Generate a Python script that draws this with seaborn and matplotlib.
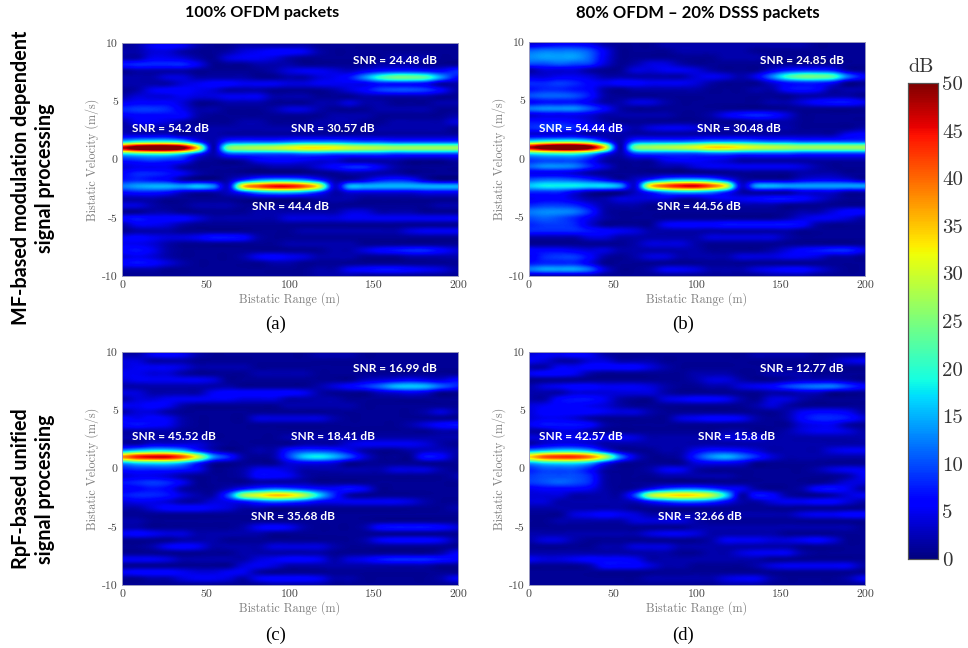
import numpy as np
import seaborn as sns
import matplotlib.pyplot as plt

# grid of the maps: chosen so rows/cols land on the streaks and their gaps
range_m = [0, 9, 18, 27, 36, 45, 54, 63, 72, 81, 90, 99, 108, 117, 126, 135, 144, 153, 162, 171, 180, 189, 198, 207]
velocity = [10.35, 9.8, 9.25, 8.7, 8.15, 7.6, 7.05, 6.5, 5.95, 5.4, 4.85, 4.3, 3.75, 3.2, 2.65, 2.1, 1.55, 1.0, 0.45,
            -0.1, -0.65, -1.2, -1.75, -2.3, -2.85, -3.4, -3.95, -4.5, -5.05, -5.6, -6.15, -6.7, -7.25, -7.8, -8.35,
            -8.9, -9.45, -10.0]

map_a = [
    [1,1,1,1,1,1,1,1,1,1,1,1,1,1,1,1,2,2,2,2,2,2,2,2],
    [1,2,5,6,5,2,1,1,2,2,2,2,2,1,1,1,1,1,1,1,1,1,1,1],
    [2,2,4,4,2,1,1,2,4,5,6,6,5,2,1,1,1,1,1,1,1,1,1,1],
    [2,2,5,5,4,2,1,4,5,5,4,2,1,1,1,1,1,1,2,2,2,1,1,1],
    [7,8,8,8,8,5,1,1,1,2,2,2,1,1,1,1,1,2,2,2,1,1,1,1],
    [1,2,2,2,2,1,1,1,1,1,2,4,5,5,4,3,5,7,8,8,7,6,8,8],
    [2,2,2,4,4,2,2,2,2,1,1,2,2,4,5,7,13,20,24,24,22,14,7,6],
    [2,2,2,2,4,5,6,6,5,5,5,4,4,5,5,5,5,7,7,7,6,2,2,2],
    [1,2,5,6,6,5,4,2,2,2,1,1,1,1,2,4,6,9,10,10,9,6,2,1],
    [2,4,4,4,5,4,4,5,5,5,2,2,2,1,1,1,2,2,2,2,2,1,1,1],
    [5,6,6,6,4,1,1,2,2,2,1,1,1,2,2,4,2,2,1,1,1,2,2,2],
    [8,9,9,8,5,2,2,1,1,1,2,4,4,2,1,1,1,2,2,2,2,1,1,1],
    [5,6,6,6,6,2,1,1,1,1,1,1,1,1,2,2,2,1,1,1,1,1,2,2],
    [2,5,5,4,2,1,1,1,2,2,1,1,1,2,2,2,1,1,2,2,2,2,4,4],
    [2,2,2,2,2,2,2,2,2,2,2,2,2,2,1,1,1,2,2,2,2,2,1,1],
    [4,4,4,4,2,2,2,2,2,2,2,2,2,2,2,2,2,2,2,2,2,2,2,2],
    [16,19,20,20,17,8,2,9,10,10,10,11,12,12,12,11,10,10,9,9,9,9,9,9],
    [47,54,57,57,52,34,2,24,27,28,29,31,33,33,32,30,29,28,27,27,27,27,27,27],
    [17,19,20,20,16,8,2,9,10,10,10,10,11,11,10,10,10,10,9,9,9,9,9,9],
    [7,8,9,8,7,2,1,1,2,5,6,6,5,4,4,2,2,2,2,1,1,1,2,2],
    [4,5,5,5,2,1,1,1,1,1,2,2,2,4,6,8,8,5,2,1,1,1,1,1],
    [6,8,8,7,5,2,1,1,1,1,1,1,1,1,1,2,2,2,2,1,1,1,1,1],
    [7,8,7,6,2,1,1,2,8,13,15,15,13,8,2,2,4,7,8,7,3,1,1,1],
    [12,14,15,15,14,16,13,4,34,41,45,45,41,31,4,15,15,15,15,15,15,15,15,15],
    [6,7,7,6,3,2,2,3,8,13,15,15,13,8,2,4,4,4,4,4,5,5,5,5],
    [2,2,2,1,1,1,1,1,1,1,1,1,1,2,2,2,1,1,1,1,1,1,1,1],
    [4,4,2,1,1,2,2,2,1,1,1,1,1,1,1,1,1,1,1,1,1,2,2,2],
    [1,1,2,2,1,1,1,1,1,2,2,2,2,2,2,4,4,2,2,2,1,1,1,1],
    [6,7,6,6,6,4,2,2,2,2,2,4,4,4,4,5,5,5,5,5,5,5,5,4],
    [2,5,5,4,2,1,1,1,1,1,1,1,1,1,1,1,1,1,1,1,1,1,1,1],
    [1,2,2,2,1,1,1,1,1,1,1,1,2,2,2,2,2,2,2,4,5,5,5,5],
    [5,6,5,4,4,5,7,7,6,2,1,1,1,1,1,1,1,1,1,1,1,1,1,1],
    [5,5,4,2,1,1,1,1,1,1,1,2,2,2,2,2,1,1,1,1,1,1,1,1],
    [6,7,5,2,1,1,1,1,1,1,1,1,1,1,2,2,4,6,7,8,8,6,4,2],
    [4,5,4,2,1,1,1,1,2,5,6,5,4,2,2,2,1,1,1,2,2,2,2,2],
    [6,7,6,4,2,1,1,1,1,1,2,2,1,1,1,1,1,1,1,1,1,1,1,1],
    [2,2,2,1,1,1,1,1,1,1,1,1,1,2,2,5,6,7,7,6,5,4,2,2],
    [1,1,1,1,1,1,1,1,1,1,1,1,1,2,2,2,1,1,1,1,1,1,1,1],
]

map_b = [
    [2,2,2,2,2,1,1,1,1,1,1,1,1,1,1,1,1,1,1,1,1,1,1,1],
    [4,5,6,6,5,2,1,1,1,2,2,2,2,2,2,2,2,2,2,1,1,1,1,1],
    [11,12,12,12,10,5,1,1,1,1,2,2,2,2,2,1,1,1,1,1,1,1,1,1],
    [13,14,14,14,11,5,1,1,1,1,1,1,1,2,2,2,1,1,1,1,1,1,1,1],
    [10,10,11,10,9,4,1,2,4,4,2,1,1,1,1,1,1,1,1,1,1,1,1,1],
    [2,4,4,4,2,1,1,4,4,5,5,4,2,1,1,1,4,7,8,8,7,2,1,1],
    [4,4,5,5,4,2,2,2,2,2,2,4,5,4,2,5,12,20,24,24,22,12,6,2],
    [8,8,9,8,6,5,6,6,5,5,5,4,2,1,1,1,4,7,8,8,6,1,1,1],
    [7,8,8,7,6,2,1,2,2,2,2,2,1,1,1,2,2,6,7,6,2,2,2,2],
    [10,11,11,10,7,2,1,1,1,1,1,1,1,1,1,1,1,1,2,2,2,2,1,1],
    [6,7,7,7,5,2,2,4,4,2,1,1,1,1,1,1,2,2,4,6,7,7,5,2],
    [12,13,13,13,10,6,2,1,1,1,1,1,1,1,1,1,1,1,1,1,1,1,1,1],
    [4,5,5,5,4,2,2,2,2,2,1,1,2,5,7,8,7,4,1,1,1,1,1,1],
    [7,7,7,6,4,2,1,1,1,1,1,1,1,1,1,2,2,2,1,1,1,1,1,1],
    [8,9,9,8,6,5,4,2,4,5,5,4,2,2,2,2,2,2,1,1,1,1,2,2],
    [4,4,4,4,2,2,2,2,2,2,2,2,2,2,2,2,2,2,2,2,2,5,6,5],
    [17,19,20,20,17,8,2,9,10,10,10,11,12,12,12,11,10,10,9,9,9,9,9,9],
    [47,54,58,58,52,34,2,24,27,28,29,31,34,34,32,30,29,28,27,27,27,27,27,27],
    [18,20,21,21,17,8,2,9,10,10,10,10,11,11,10,10,10,10,9,9,9,9,9,9],
    [9,10,10,10,7,2,1,2,2,5,6,6,5,4,2,2,2,2,2,2,2,2,2,2],
    [11,13,13,12,8,4,1,1,1,2,2,4,5,5,5,5,5,5,4,2,1,1,1,1],
    [5,5,5,4,2,1,1,1,1,1,1,1,1,1,1,1,1,1,2,2,2,1,1,1],
    [10,11,11,10,8,5,2,3,8,13,15,15,13,8,2,2,2,2,4,5,5,4,2,2],
    [16,18,18,18,17,17,14,4,33,41,45,46,41,31,4,14,15,14,14,14,14,14,14,14],
    [8,8,8,5,2,1,1,3,8,13,15,15,13,8,2,2,2,2,4,4,4,2,2,2],
    [5,6,6,4,2,2,4,4,4,4,2,2,4,5,5,6,7,7,6,4,2,1,1,1],
    [8,9,9,8,5,2,2,2,1,1,1,1,1,1,2,2,2,1,1,1,1,1,1,1],
    [12,13,13,12,8,2,1,1,1,1,1,1,1,1,1,1,1,1,2,2,4,6,6,5],
    [10,11,10,8,5,2,1,1,1,1,1,1,1,1,1,1,1,2,4,5,5,4,2,2],
    [8,9,9,8,4,1,1,1,1,5,6,6,6,7,7,7,7,7,6,2,1,1,1,1],
    [8,8,8,8,7,6,5,4,2,2,2,2,2,2,2,2,2,2,1,1,1,1,1,1],
    [2,2,2,2,4,4,2,2,2,2,2,2,4,4,4,4,4,2,1,1,1,1,1,1],
    [1,1,1,1,1,1,1,2,4,4,4,2,1,1,1,1,1,1,1,1,1,1,1,1],
    [6,6,6,5,4,4,2,2,2,2,2,2,1,1,1,1,2,4,6,7,8,8,5,1],
    [5,8,9,9,6,2,1,2,4,4,2,2,2,2,4,4,4,5,5,4,2,2,1,1],
    [7,8,8,8,5,1,1,1,1,1,1,1,1,1,1,1,1,1,1,1,1,1,1,1],
    [12,14,14,14,11,4,1,1,2,5,5,4,2,2,2,4,5,6,6,4,2,1,1,1],
    [2,2,2,2,2,1,1,1,1,1,1,1,1,1,1,1,2,2,2,1,1,1,1,1],
]

map_c = [
    [1,1,1,1,1,1,1,1,1,1,1,1,1,1,1,1,1,1,1,1,1,1,1,1],
    [2,2,5,6,5,2,1,1,1,1,1,1,1,2,2,2,1,1,1,1,1,1,1,1],
    [4,4,2,2,2,1,1,1,1,1,1,1,1,1,1,1,1,1,1,1,1,1,1,1],
    [4,5,5,5,4,2,2,2,2,1,1,1,1,1,1,1,1,1,1,1,1,1,1,1],
    [5,5,4,4,2,1,1,1,1,2,2,2,2,1,1,1,1,1,1,1,1,1,1,1],
    [4,5,5,5,5,5,4,1,1,1,1,1,1,1,1,1,3,4,5,6,5,4,6,7],
    [2,2,2,2,2,2,2,2,1,1,1,1,1,2,4,6,8,11,15,16,15,11,8,5],
    [4,4,2,2,2,2,5,6,6,6,6,6,5,2,1,1,1,3,4,5,4,1,1,1],
    [2,4,4,5,5,5,5,5,4,4,4,2,2,2,2,1,1,1,1,1,1,1,1,1],
    [5,5,6,5,2,1,1,1,1,1,1,2,2,2,2,2,1,1,1,1,1,1,1,1],
    [2,4,4,2,1,1,1,1,1,1,1,1,1,1,1,1,1,1,1,1,2,4,2,1],
    [6,5,6,5,2,1,1,1,1,4,4,4,4,4,2,1,1,1,1,1,1,1,1,1],
    [6,7,6,5,2,1,1,1,1,1,1,1,1,1,1,1,1,1,1,2,4,6,7,7],
    [2,2,2,2,1,1,1,1,1,1,1,1,1,1,1,1,1,1,1,1,1,2,2,2],
    [2,2,2,2,2,2,1,1,1,1,1,2,2,2,2,2,2,2,2,2,2,2,2,2],
    [2,2,4,4,4,4,2,1,1,1,1,1,2,2,2,4,5,5,5,5,4,2,1,1],
    [13,16,18,18,15,8,3,1,1,2,2,7,9,9,8,5,2,1,1,2,3,3,2,2],
    [38,44,46,46,41,30,14,8,2,1,2,9,16,18,15,10,4,1,1,1,7,6,2,1],
    [14,17,18,18,15,8,2,1,1,1,1,4,5,5,4,1,1,1,1,1,1,1,1,1],
    [7,8,8,8,7,5,1,1,2,5,5,4,2,2,2,2,2,2,4,4,4,2,1,1],
    [4,5,5,4,2,1,1,1,2,6,6,5,2,1,1,1,1,1,1,1,1,1,2,5],
    [7,8,9,8,5,1,1,1,1,2,2,2,2,1,1,1,1,1,1,1,1,1,1,2],
    [5,6,7,6,2,1,1,3,7,10,12,11,9,7,6,7,5,1,1,1,1,1,1,1],
    [7,8,8,7,4,2,2,10,26,31,35,34,28,17,8,2,1,1,1,1,1,1,1,1],
    [4,5,5,4,2,2,4,5,7,10,12,11,9,6,5,5,5,5,5,4,2,1,1,1],
    [2,2,4,6,6,6,5,4,2,2,1,1,1,1,1,1,1,1,1,1,1,1,2,2],
    [1,1,1,1,1,1,1,1,1,1,1,1,1,1,1,1,1,1,1,1,1,1,1,1],
    [2,2,1,1,1,1,1,1,1,1,1,1,1,1,1,1,1,1,1,1,1,1,1,1],
    [2,2,1,1,1,1,1,1,2,5,6,5,2,1,1,1,2,6,7,7,7,6,4,1],
    [5,6,5,4,4,2,2,2,2,2,1,1,1,1,1,1,1,1,1,1,1,1,1,1],
    [1,1,1,1,2,2,2,1,1,1,1,1,1,1,1,1,2,5,6,6,6,5,2,1],
    [1,1,2,5,6,5,2,2,2,2,4,4,4,4,2,1,1,1,1,1,1,1,1,1],
    [1,1,1,1,1,1,1,1,2,2,2,2,2,2,1,1,1,1,1,1,1,2,5,6],
    [5,5,5,4,2,2,2,2,2,4,5,6,6,5,2,4,5,7,8,8,8,7,6,2],
    [1,1,1,1,1,1,1,1,4,5,4,2,2,2,2,2,2,2,2,2,2,1,1,1],
    [5,6,6,6,5,4,4,5,5,2,1,1,1,1,1,1,1,1,1,1,1,1,1,1],
    [1,1,2,2,4,5,5,4,2,5,6,6,6,5,2,2,1,1,1,1,1,2,5,4],
    [1,1,1,1,1,1,1,1,1,1,2,2,2,2,1,1,1,1,1,1,1,1,1,1],
]

map_d = [
    [1,1,1,1,1,1,1,1,1,1,1,1,1,1,1,1,2,2,2,1,1,1,1,1],
    [4,5,5,6,5,2,1,1,1,1,1,1,1,1,1,2,2,2,2,1,1,1,1,1],
    [5,4,2,2,4,4,2,2,2,1,1,1,1,1,1,1,1,1,1,1,2,4,5,5],
    [2,2,5,5,6,6,6,6,4,2,1,1,1,1,1,1,1,1,1,1,1,1,1,1],
    [5,6,6,5,2,1,1,1,1,1,1,2,2,2,1,1,2,2,2,1,1,1,1,1],
    [1,1,1,1,1,1,1,1,1,1,1,2,4,4,2,1,1,2,3,3,3,2,1,1],
    [2,4,5,6,6,5,5,5,4,2,1,1,2,2,4,5,6,9,11,12,12,9,6,5],
    [2,2,2,4,4,4,4,4,4,2,1,1,1,1,1,1,2,2,3,3,1,1,1,1],
    [2,2,6,7,7,5,2,1,1,4,5,6,6,5,2,1,4,4,2,1,1,1,1,1],
    [4,5,6,6,5,4,2,1,1,1,1,1,1,1,1,2,4,2,1,1,1,1,1,1],
    [4,6,6,6,6,5,4,4,2,1,1,1,1,1,1,1,1,2,5,6,6,5,2,1],
    [4,5,5,4,2,1,1,1,1,1,4,5,6,6,5,2,1,2,6,8,8,7,4,1],
    [5,7,7,7,6,2,1,1,1,1,1,1,1,1,1,1,1,1,4,5,5,2,1,1],
    [2,2,4,4,2,1,1,1,1,1,1,1,1,2,2,1,1,2,4,5,5,4,2,1],
    [4,4,5,5,5,5,5,4,2,2,2,2,2,4,4,4,2,2,2,2,2,2,2,2],
    [2,4,5,5,4,2,2,2,2,2,2,2,2,2,2,2,2,2,2,2,2,2,2,2],
    [13,15,17,17,14,7,2,1,1,2,2,5,7,7,6,4,2,2,2,2,4,5,5,4],
    [34,41,43,43,39,29,13,4,1,1,2,8,13,15,12,8,4,2,2,2,2,2,2,2],
    [14,17,18,18,15,7,2,1,1,1,1,4,5,5,4,1,1,1,1,1,1,1,1,1],
    [8,10,10,10,7,2,1,1,2,5,5,2,1,1,1,1,1,1,1,2,4,5,5,4],
    [9,10,10,10,8,2,1,1,1,2,2,2,2,2,1,1,1,1,1,1,1,2,5,6],
    [9,10,11,10,8,2,1,1,1,1,1,1,1,1,1,1,1,1,1,1,2,4,4,2],
    [5,6,6,6,5,2,1,2,6,10,12,12,10,7,5,2,1,1,2,6,7,5,2,1],
    [4,4,4,2,2,2,2,10,27,32,34,33,29,17,2,7,6,2,1,1,2,4,5,5],
    [4,4,2,2,2,2,2,3,7,10,12,12,10,6,2,2,4,5,5,6,6,4,2,1],
    [2,2,2,2,2,2,2,1,1,1,1,1,1,1,1,1,1,1,1,1,1,1,1,1],
    [1,1,1,4,5,6,5,4,2,2,2,2,2,2,2,2,2,2,4,5,5,6,6,5],
    [1,1,2,2,2,2,2,4,4,4,4,2,1,1,1,1,1,1,1,1,1,1,1,1],
    [1,1,1,1,1,1,1,1,1,1,1,2,2,2,2,2,2,2,2,2,2,2,1,1],
    [2,2,2,2,2,2,2,2,4,5,5,4,2,2,2,2,2,1,1,1,1,1,1,1],
    [2,4,4,2,1,1,1,1,1,1,1,1,2,5,5,5,4,4,5,6,4,1,1,1],
    [1,1,1,1,1,2,2,4,4,4,2,2,2,2,2,2,2,2,1,1,1,1,1,1],
    [2,2,2,2,2,2,2,2,2,2,1,1,2,2,4,5,5,5,2,1,1,1,1,1],
    [5,4,4,5,6,6,6,5,2,2,2,2,2,2,2,2,1,1,1,1,1,1,1,1],
    [1,1,1,1,2,6,6,6,4,2,2,1,1,1,1,2,4,5,5,5,5,5,2,1],
    [1,1,1,1,1,1,1,1,1,1,1,1,1,1,1,1,1,1,1,1,1,1,1,1],
    [1,1,1,1,1,1,1,1,2,2,2,2,2,4,5,5,2,1,1,1,1,2,5,6],
    [1,1,1,1,1,1,1,1,1,1,1,1,1,2,2,2,1,1,1,1,1,1,1,1],
]

snr_labels_a = ["SNR = 24.48 dB", "SNR = 54.2 dB", "SNR = 30.57 dB", "SNR = 44.4 dB"]
snr_labels_b = ["SNR = 24.85 dB", "SNR = 54.44 dB", "SNR = 30.48 dB", "SNR = 44.56 dB"]
snr_labels_c = ["SNR = 16.99 dB", "SNR = 45.52 dB", "SNR = 18.41 dB", "SNR = 35.68 dB"]
snr_labels_d = ["SNR = 12.77 dB", "SNR = 42.57 dB", "SNR = 15.8 dB", "SNR = 32.66 dB"]
range_ticks = [0, 50, 100, 150, 200]
velocity_ticks = [10, 5, 0, -5, -10]
db_ticks = [0, 5, 10, 15, 20, 25, 30, 35, 40, 45, 50]

W, H = 968, 648
CM = "cmr10"
SANS = "Lato"
SERIF = "Liberation Serif"


def box(left, top, right, bottom):
    return [left / W, 1 - bottom / H, (right - left) / W, (bottom - top) / H]


def put(x, y, s, **kw):
    fig.text(x / W, 1 - y / H, s, ha="center", va="center", **kw)


sns.set_theme(style="white")
fig = plt.figure(figsize=(W / 100, H / 100), dpi=100)
cax = fig.add_axes(box(908, 83, 938, 559))

panels = [
    (map_a, box(122, 43, 458, 276), snr_labels_a, [(395, 60), (171, 128), (333, 128), (290, 207)], "(a)", (276, 324)),
    (map_b, box(529, 42, 865, 276), snr_labels_b, [(802, 60), (581, 128), (739, 128), (699, 207)], "(b)", (683, 324)),
    (map_c, box(122, 352, 458, 585), snr_labels_c, [(395, 369), (174, 437), (333, 437), (293, 516)], "(c)", (276, 635)),
    (map_d, box(529, 352, 865, 585), snr_labels_d, [(802, 369), (581, 437), (737, 437), (700, 516)], "(d)", (683, 635)),
]

dv = velocity[0] - velocity[1]
dr = range_m[1] - range_m[0]

for i, (values, pos, labels, label_pos, tag, tag_pos) in enumerate(panels):
    values = np.array(values)
    ax = fig.add_axes(pos)
    sns.heatmap(values, ax=ax, cmap="jet", vmin=0, vmax=50, xticklabels=False, yticklabels=False,
                cbar=i == 0, cbar_ax=cax if i == 0 else None)
    # smooth rendering of the same cells, on the heatmap's own index axes
    ax.imshow(values, cmap="jet", vmin=0, vmax=50, aspect="auto", interpolation="catrom", zorder=2,
              interpolation_stage="data", extent=(0, values.shape[1], values.shape[0], 0))
    # cell i spans i..i+1, so a value at velocity v sits at index + 0.5
    ax.set_xlim(0.5, 200 / dr + 0.5)
    ax.set_ylim((velocity[0] + 10) / dv + 0.5, (velocity[0] - 10) / dv + 0.5)
    ax.set_xticks([r / dr + 0.5 for r in range_ticks])
    ax.set_xticklabels(range_ticks, fontfamily=CM, fontsize=8.5, color="#444444")
    ax.set_yticks([(velocity[0] - v) / dv + 0.5 for v in velocity_ticks])
    ax.set_yticklabels(velocity_ticks, fontfamily=CM, fontsize=8.5, color="#444444")
    ax.tick_params(length=0, pad=3)
    ax.set_xlabel("Bistatic Range (m)", fontfamily=CM, fontsize=8.7, color="#808080", labelpad=2)
    ax.set_ylabel("Bistatic Velocity (m/s)", fontfamily=CM, fontsize=8.7, color="#808080", labelpad=2)
    for sp in ax.spines.values():
        sp.set_visible(True)
        sp.set_color("#9a9ac0")
        sp.set_linewidth(0.7)
    for s, (x, y) in zip(labels, label_pos):
        put(x, y, s, color="white", fontfamily=SANS, fontweight="bold", fontsize=8.6)
    put(tag_pos[0], tag_pos[1], tag, color="black", fontfamily=SERIF, fontsize=13.5)

# colorbar
cax.set_yticks(db_ticks)
cax.set_yticklabels(db_ticks, fontfamily=CM, fontsize=15, color="#333333")
cax.tick_params(axis="y", direction="in", length=5, width=0.7, color="#333333", pad=3, right=True, left=False)
for sp in cax.spines.values():
    sp.set_visible(True)
    sp.set_color("#555555")
    sp.set_linewidth(0.8)
put(921, 67, "dB", color="#333333", fontfamily=CM, fontsize=14.5)

# column and row headers
put(262, 13, "100% OFDM packets", color="black", fontfamily=SANS, fontweight="bold", fontsize=11.6)
put(698, 13, "80% OFDM \u2013 20% DSSS packets", color="black", fontfamily=SANS, fontweight="bold", fontsize=12)
put(33, 178, "MF-based modulation dependent\nsignal processing", color="black", fontfamily=SANS,
    fontweight="bold", fontsize=14.2, rotation=90, linespacing=1.2)
put(33, 489, "RpF-based unified\nsignal processing", color="black", fontfamily=SANS,
    fontweight="bold", fontsize=14.2, rotation=90, linespacing=1.2)

fig.savefig("out.png", dpi=100)
